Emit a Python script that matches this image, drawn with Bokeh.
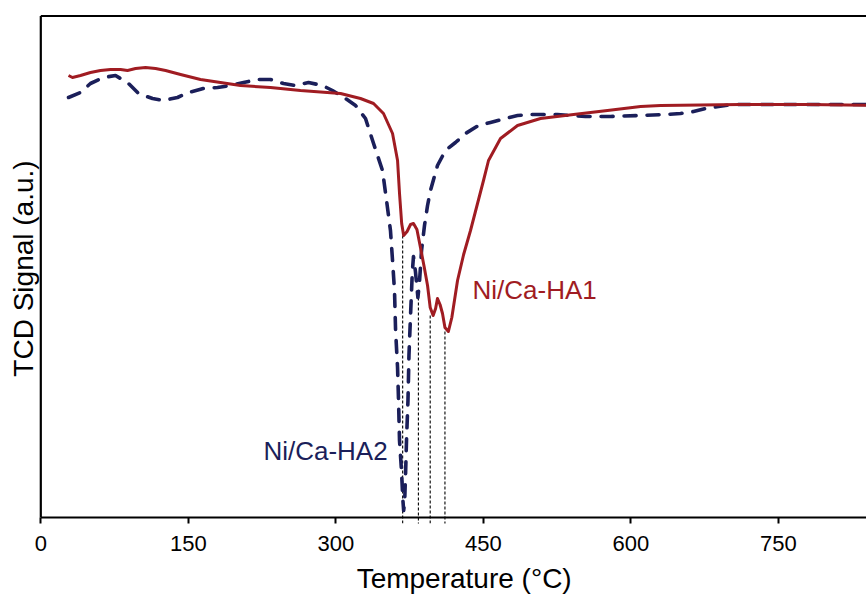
from bokeh.plotting import figure
from bokeh.models import FixedTicker, Range1d, LinearAxis
from bokeh.core.properties import value
from bokeh.embed import file_html
from bokeh.resources import INLINE

# TPR profiles: temperature (deg C) vs TCD signal (a.u.)
ha1_temp = [28.2, 32.2, 40.4, 50.5, 60.7, 70.9, 81.1, 88.2, 96.4, 106.5, 116.7, 126.9,
            142.1, 162.4, 182.7, 203.1, 233.6, 264.1, 304.8, 325.1, 338.4, 348.5,
            357.7, 362.8, 364.8, 367.0, 369.0, 372.5, 376.0, 379.0, 382.5, 386.1,
            390.0, 393.3, 396.0, 399.0, 401.5, 403.4, 406.0, 408.5, 411.0, 414.5,
            418.0, 423.8, 430.0, 437.0, 450.2, 455.3, 467.5, 484.8, 508.2, 541.8,
            576.3, 610.0, 630.3, 711.6, 780.0, 850.0]
ha1_signal = [44.2, 44.0, 44.2, 44.5, 44.7, 44.8, 44.8, 44.7, 44.9, 45.0, 44.9, 44.7,
              44.3, 43.8, 43.5, 43.2, 43.0, 42.7, 42.4, 41.9, 41.4, 40.4,
              38.4, 35.7, 32.4, 29.4, 28.2, 28.6, 29.3, 29.4, 28.8, 27.0,
              25.0, 23.2, 21.0, 20.2, 20.9, 21.9, 21.3, 20.4, 19.0, 18.6,
              20.0, 23.7, 26.3, 28.7, 33.7, 35.7, 37.9, 39.2, 39.9, 40.3,
              40.7, 41.1, 41.2, 41.3, 41.3, 41.2]

ha2_temp = [28.2, 40.4, 50.5, 63.8, 76.0, 89.2, 99.4, 113.6, 124.8, 139.0, 150.2,
            165.5, 179.7, 193.0, 206.2, 220.4, 233.6, 246.8, 259.0, 272.2, 286.5,
            296.6, 309.9, 320.1, 330.2, 338.4, 347.5, 351.6, 355.6, 357.7, 359.7,
            360.8, 362.8, 363.8, 364.8, 366.8, 368.2, 369.0, 370.0, 371.0, 372.0,
            373.4, 374.4, 376.0, 377.8, 379.0, 381.0, 383.5, 385.2, 387.2, 390.2,
            393.3, 396.3, 403.4, 411.5, 421.7, 431.9, 445.1, 457.3, 472.6, 484.8,
            498.0, 525.4, 553.9, 579.4, 607.8, 635.3, 650.6, 663.8, 676.0, 689.2,
            703.5, 714.7, 772.6, 850.0]
ha2_signal = [42.0, 42.5, 43.4, 44.0, 44.2, 43.4, 42.4, 41.9, 41.7, 42.0, 42.5,
              42.9, 43.0, 43.2, 43.5, 43.8, 43.8, 43.4, 43.2, 43.5, 43.2,
              42.7, 41.9, 41.2, 39.9, 37.4, 34.7, 31.7, 28.7, 25.7, 22.7,
              18.7, 15.0, 11.7, 7.7, 4.7, 1.8, 0.7, 1.5, 4.5, 8.0,
              11.7, 16.2, 20.2, 24.5, 26.1, 24.6, 22.0, 23.7, 26.7, 29.2,
              31.2, 32.7, 35.2, 36.7, 37.5, 38.4, 39.2, 39.5, 39.9, 40.2,
              40.3, 40.3, 40.1, 40.1, 40.2, 40.3, 40.4, 40.6, 40.9, 41.1,
              41.3, 41.3, 41.3, 41.3]

# reduction peak maxima marked with drop lines
peak_temp = [368.0, 384.0, 396.0, 411.0]
peak_signal = [28.2, 22.0, 20.2, 18.6]

x_ticks = [0, 150, 300, 450, 600, 750]

RED = "#A01C22"
NAVY = "#1B1F5A"
FONT = "Liberation Sans"

p = figure(width=866, height=599, output_backend="svg", toolbar_location=None,
           x_axis_location="below", y_axis_location=None,
           min_border_left=38, min_border_right=0, min_border_top=13,
           min_border_bottom=76)
p.x_range = Range1d(-2.34, 839.7)
p.y_range = Range1d(-0.6, 50.4)
p.outline_line_color = None
p.xgrid.visible = False
p.ygrid.visible = False
p.background_fill_color = "white"
p.border_fill_color = "white"

# plot box
box_top = 50.15
p.segment(x0=[0, 0, 0], y0=[0, 0, box_top], x1=[0, 2000, 2000], y1=[box_top, 0, box_top],
          line_color="black", line_width=2.2)

# drop lines from each peak to below the axis
p.segment(x0=peak_temp, y0=peak_signal, x1=peak_temp, y1=[-1] * len(peak_temp),
          line_color="black", line_width=1.1, line_dash="3 2")

p.line(ha2_temp, ha2_signal, line_color=NAVY, line_width=3.6, line_dash="12 11",
       line_cap="round", line_join="round")
p.line(ha1_temp, ha1_signal, line_color=RED, line_width=3, line_join="round")

ax = p.xaxis[0]
ax.ticker = FixedTicker(ticks=x_ticks)
ax.axis_line_color = None
ax.major_tick_in = 6
ax.major_tick_out = 0
ax.major_tick_line_width = 2
ax.minor_tick_line_color = None
ax.major_label_standoff = 12
ax.major_label_text_font = FONT
ax.major_label_text_font_size = "22px"
ax.major_label_text_color = "black"
ax.axis_label = "\u00a0\u00a0\u00a0Temperature (°C)"
ax.axis_label_standoff = 9
ax.axis_label_text_font = FONT
ax.axis_label_text_font_size = "28px"
ax.axis_label_text_font_style = "normal"
ax.axis_label_text_color = "black"

yax = LinearAxis(ticker=FixedTicker(ticks=[]), axis_line_color=None,
                 major_tick_line_color=None, minor_tick_line_color=None,
                 major_tick_out=0, major_tick_in=0, major_label_standoff=0,
                 major_label_text_font_size="0px",
                 axis_label="TCD Signal (a.u.)", axis_label_standoff=0,
                 axis_label_text_font=FONT, axis_label_text_font_size="28px",
                 axis_label_text_font_style="normal", axis_label_text_color="black")
p.add_layout(yax, "left")

p.text(x=[439.0], y=[22.8], text=["Ni/Ca-HA1"], text_color=RED,
       text_font=value(FONT), text_font_size="26px", text_baseline="alphabetic")
p.text(x=[226.4], y=[6.7], text=["Ni/Ca-HA2"], text_color=NAVY,
       text_font=value(FONT), text_font_size="26px", text_baseline="alphabetic")

open("out.html", "w").write(file_html(p, INLINE))
